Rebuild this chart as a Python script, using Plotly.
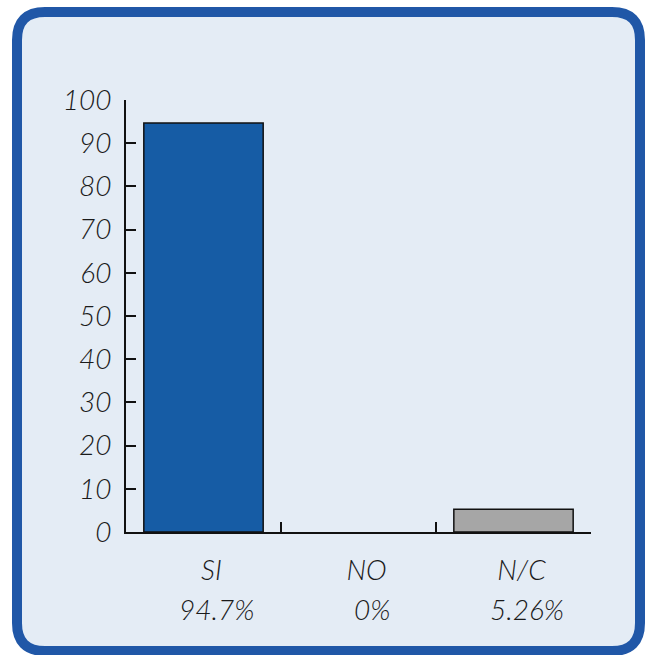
import plotly.graph_objects as go

# Survey answers and their share of responses (%)
categories = ["SI", "NO", "N/C"]
values = [94.7, 0, 5.26]
bar_colors = ["#165ca5", "#165ca5", "#a6a6a6"]
y_ticks = list(range(0, 101, 10))

W, H = 653, 655
ML, MR, MT, MB = 126, 62, 100, 123
PW, PH = W - ML - MR, H - MT - MB


def px_x(x):
    return (x - ML) / PW


def px_y(y):
    return (H - MB - y) / PH


def rounded_rect(x0, y0, x1, y1, r):
    pts = [
        ("M", x0 + r, y0),
        ("L", x1 - r, y0),
        ("Q", x1, y0, x1, y0 + r),
        ("L", x1, y1 - r),
        ("Q", x1, y1, x1 - r, y1),
        ("L", x0 + r, y1),
        ("Q", x0, y1, x0, y1 - r),
        ("L", x0, y0 + r),
        ("Q", x0, y0, x0 + r, y0),
    ]
    out = []
    for p in pts:
        cmd, coords = p[0], p[1:]
        pairs = []
        for i in range(0, len(coords), 2):
            pairs.append(f"{px_x(coords[i]):.5f},{px_y(coords[i + 1]):.5f}")
        out.append(cmd + " " + " ".join(pairs))
    return " ".join(out) + " Z"


font_main = dict(family="Lato", size=28, color="#1a1a1a", style="italic", weight=300)

# zero-height bars get no outline
outline_widths = [1.5 if v > 0 else 0 for v in values]

fig = go.Figure(
    go.Bar(
        x=categories,
        y=values,
        width=0.77,
        marker=dict(color=bar_colors, line=dict(color="#111111", width=outline_widths)),
        hoverinfo="x+y",
    )
)

fig.add_shape(
    type="path",
    path=rounded_rect(17, 12, 640, 651, 28),
    xref="paper",
    yref="paper",
    line=dict(color="#2057a7", width=10),
    fillcolor="#e4ecf5",
    layer="below",
)

for cat, v in zip(categories, values):
    fig.add_annotation(
        x=cat,
        y=0,
        xref="x",
        yref="paper",
        text=f"{v:g}%",
        showarrow=False,
        yanchor="middle",
        yshift=-77,
        xshift=13,
        font=font_main,
    )

fig.update_layout(
    width=W,
    height=H,
    margin=dict(l=ML, r=MR, t=MT, b=MB),
    paper_bgcolor="white",
    plot_bgcolor="rgba(0,0,0,0)",
    showlegend=False,
    xaxis=dict(
        type="category",
        range=[-0.5, 2.5],
        showline=True,
        linecolor="#111111",
        linewidth=2,
        ticks="inside",
        tickson="boundaries",
        ticklen=10,
        tickwidth=2,
        tickcolor="#111111",
        showgrid=False,
        zeroline=False,
        tickfont=font_main,
        ticklabelshift=8,
        ticklabelstandoff=12,
    ),
    yaxis=dict(
        range=[0, 100],
        tickvals=y_ticks,
        showline=True,
        linecolor="#111111",
        linewidth=2,
        ticks="inside",
        ticklen=10,
        tickwidth=2,
        tickcolor="#111111",
        showgrid=False,
        zeroline=False,
        tickfont=font_main,
        ticklabelstandoff=7,
    ),
)

fig.write_html("out.html")
